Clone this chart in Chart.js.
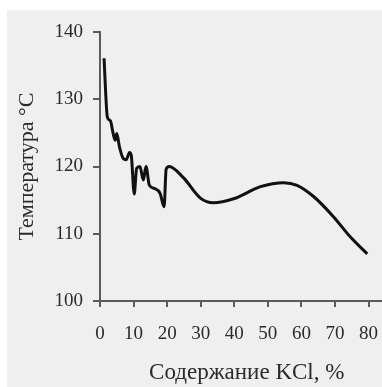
<!DOCTYPE html>
<html>
<head>
<meta charset="utf-8">
<script src="https://cdn.jsdelivr.net/npm/chart.js@4"></script>
<style>
  html, body { margin: 0; padding: 0; background: #fff; }
  #wrap { width: 382px; height: 387px; }
</style>
</head>
<body>
<div id="wrap"><canvas id="tempChart" width="382" height="387"></canvas></div>
<script>
// KCl content, % and boiling temperature, °C
const kcl = [1.2, 2.2, 3.1, 3.8, 4.5, 5.0, 5.8, 6.9, 7.8, 8.8, 9.3, 10.2, 10.9, 11.9, 12.9, 13.7, 14.7,
             16.4, 17.9, 19.1, 19.7, 20.6, 24.9, 29.9, 33.8, 39.8, 47.8, 54.7, 58.7, 63.7, 69.6, 74.6, 79.6];
const temperature = [136.1, 127.3, 126.8, 125.2, 123.9, 124.9, 122.9, 121.2, 121.0, 122.1, 121.7, 115.9, 119.7, 120.0, 118.0, 120.0, 117.2,
                     116.7, 116.0, 114.0, 119.6, 120.0, 118.3, 115.3, 114.6, 115.2, 117.0, 117.6, 117.2, 115.5, 112.5, 109.5, 107.0];
const xTicks = [0, 10, 20, 30, 40, 50, 60, 70, 80];
const yTicks = [100, 110, 120, 130, 140];

const axisColor = '#5a5a5a';
const textColor = '#2a2a2a';
const serif = "'Liberation Serif', 'Times New Roman', serif";

const panelBg = {
    id: 'panelBg',
    beforeDraw(chart) {
        const ctx = chart.ctx;
        ctx.save();
        ctx.fillStyle = '#efefef';
        ctx.fillRect(7, 10, chart.width - 7, chart.height - 10);
        ctx.restore();
    }
};

new Chart(document.getElementById('tempChart'), {
    type: 'scatter',
    data: {
        datasets: [{
            data: kcl.map((x, i) => ({ x: x, y: temperature[i] })),
            showLine: true,
            borderColor: '#111',
            borderWidth: 3,
            pointRadius: 0,
            cubicInterpolationMode: 'monotone'
        }]
    },
    options: {
        responsive: false,
        animation: false,
        layout: { padding: { top: 32, left: 14, right: 0, bottom: 0 } },
        plugins: { legend: { display: false }, tooltip: { enabled: false } },
        scales: {
            x: {
                type: 'linear',
                min: 0,
                max: 84,
                afterBuildTicks: s => { s.ticks = xTicks.map(v => ({ value: v })); },
                afterFit: s => {
                    s.height = 86;
                    s.paddingLeft = 0;
                    s.paddingRight = 0;
                },
                grid: {
                    drawOnChartArea: false,
                    color: axisColor,
                    lineWidth: 2,
                    tickLength: 6,
                    offset: false
                },
                border: { color: axisColor, width: 2 },
                ticks: {
                    color: textColor,
                    font: { family: serif, size: 19 },
                    padding: 16,
                    maxRotation: 0,
                    autoSkip: false
                },
                title: {
                    display: true,
                    text: '  Содержание KCl, %',
                    color: textColor,
                    font: { family: serif, size: 23 },
                    padding: { top: 4, bottom: 0 }
                }
            },
            y: {
                min: 100,
                max: 140,
                afterBuildTicks: s => { s.ticks = yTicks.map(v => ({ value: v })); },
                afterFit: s => { s.width = 86; },
                grid: {
                    drawOnChartArea: false,
                    color: axisColor,
                    lineWidth: 2,
                    tickLength: 7
                },
                border: { color: axisColor, width: 2 },
                ticks: {
                    color: textColor,
                    font: { family: serif, size: 19 },
                    padding: 10
                },
                title: {
                    display: true,
                    text: 'Температура °С',
                    color: textColor,
                    font: { family: serif, size: 22 },
                    padding: { top: 0, bottom: 4 }
                }
            }
        }
    },
    plugins: [panelBg]
});
</script>
</body>
</html>
